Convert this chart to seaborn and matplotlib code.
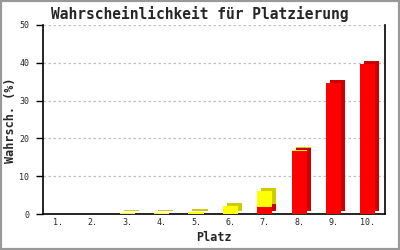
import matplotlib
matplotlib.use("Agg")
import matplotlib.pyplot as plt
import matplotlib.transforms as mtransforms
from matplotlib.patches import Rectangle
import seaborn as sns
import pandas as pd
import numpy as np

places = ["1.", "2.", "3.", "4.", "5.", "6.", "7.", "8.", "9.", "10."]
red_vals = [0, 0, 0, 0, 0, 0, 1.9, 16.7, 34.7, 39.6]
yellow_vals = [0, 0, 0.15, 0.35, 0.6, 2.2, 4.2, 0.2, 0, 0]
yticks = [0, 10, 20, 30, 40, 50]

total_vals = [r + y for r, y in zip(red_vals, yellow_vals)]
df = pd.DataFrame({"Platz": places, "red": red_vals, "total": total_vals})

sns.set_style("white")
plt.rcParams["font.family"] = ["DejaVu Sans Mono"]

fig = plt.figure(figsize=(4, 2.5), dpi=100)
ax = fig.add_axes([0.1075, 0.144, 0.855, 0.756])

shadow = mtransforms.offset_copy(ax.transData, fig=fig, x=4, y=3, units="dots")

w = 0.44
sns.barplot(data=df, x="Platz", y="total", color="#CCCC00", width=w, ax=ax,
            saturation=1, edgecolor="none", linewidth=0, transform=shadow, zorder=2)
sns.barplot(data=df, x="Platz", y="red", color="#CC0000", width=w, ax=ax,
            saturation=1, edgecolor="none", linewidth=0, transform=shadow, zorder=2)
sns.barplot(data=df, x="Platz", y="total", color="#FFFF00", width=w, ax=ax,
            saturation=1, edgecolor="none", linewidth=0, zorder=3)
sns.barplot(data=df, x="Platz", y="red", color="#FF0000", width=w, ax=ax,
            saturation=1, edgecolor="none", linewidth=0, zorder=4)

ax.set_xlim(-0.45, 9.5)
ax.set_ylim(0, 50)
ax.set_yticks(yticks)
ax.set_yticklabels([str(t) for t in yticks], fontsize=6)
ax.tick_params(axis="y", length=5, width=1, color="black", pad=5, direction="out", left=True)
ax.tick_params(axis="x", length=0, pad=3, labelsize=6)
ax.yaxis.grid(True, color="#c0c0c0", linestyle=(0, (2, 2)), linewidth=0.9, zorder=0)
ax.set_axisbelow(True)
for s in ["left", "bottom", "right"]:
    ax.spines[s].set_visible(True)
    ax.spines[s].set_color("black")
    ax.spines[s].set_linewidth(1.2)
ax.spines["top"].set_visible(False)

ax.set_xlabel("Platz", fontsize=8.5, fontweight="bold", labelpad=3)
ax.set_ylabel("")
fig.text(11 / 400, 1 - 120 / 250, "Wahrsch. (%)", rotation=90, fontsize=8.5,
         fontweight="bold", ha="center", va="center")
fig.text(0.4988, 1 - 14 / 250, "Wahrscheinlichkeit für Platzierung", fontsize=10.5,
         fontweight="semibold", ha="center", va="center")

fig.patches.append(Rectangle((0, 0), 1, 1, transform=fig.transFigure, fill=False,
                             edgecolor="#999999", linewidth=3, zorder=10))

fig.savefig("out.png", dpi=100)
